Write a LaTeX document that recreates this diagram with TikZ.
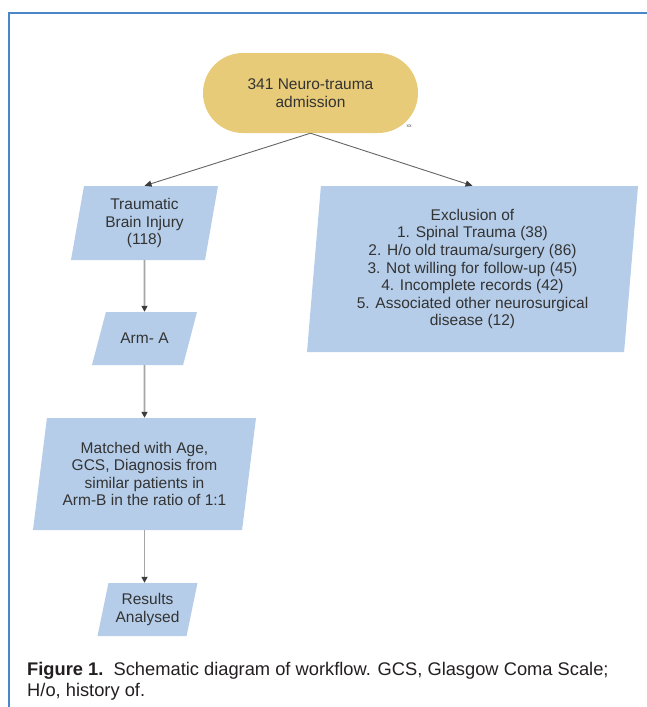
\documentclass[tikz,border=0pt]{standalone}
\usepackage{fontspec}
\setmainfont{Liberation Sans}
\usetikzlibrary{shapes.geometric,shapes.misc,arrows.meta}
\definecolor{framebl}{RGB}{74,134,200}
\definecolor{boxbl}{RGB}{181,205,233}
\definecolor{ovalgold}{RGB}{232,203,120}
\definecolor{txtgray}{RGB}{51,51,51}
\definecolor{linegray}{RGB}{165,165,165}
\definecolor{slantgray}{RGB}{100,100,100}
\definecolor{tipgray}{RGB}{60,60,60}
\definecolor{capcol}{RGB}{35,31,32}
\begin{document}
\begin{tikzpicture}[
    x=1pt, y=-1pt,
    every node/.style={font=\fontsize{15.5}{17.6}\selectfont, text=txtgray, align=center},
    stadium/.style={rounded rectangle, fill=ovalgold, minimum width=215pt, minimum height=80pt, inner sep=0pt},
    para/.style={trapezium, trapezium stretches body, fill=boxbl, inner xsep=0pt}, % paralelogramo
    down arrow/.style={draw=linegray, line width=1.6pt, -{Triangle[length=6pt,width=6pt,color=tipgray]}},
    side arrow/.style={draw=slantgray, line width=0.9pt, -{Triangle[length=7pt,width=6pt,color=tipgray]}}
    ]
    \useasboundingbox (0,0) rectangle (647,707);
    % moldura
    \draw[framebl, line width=2pt] (647,12.5) -- (9,12.5) -- (9,707);

    \node[stadium] (adm) at (310.5,93) {341 Neuro-trauma\\admission};
    \node[font=\fontsize{5}{5}\selectfont, text=black!70] (mark) at (409,126) {xx};

    \node[para, trapezium left angle=80, trapezium right angle=100, inner ysep=12pt,
          minimum height=74pt, minimum width=147pt] (tbi) at (144.5,223) {Traumatic\\Brain Injury\\(118)};
    \node[para, trapezium left angle=75.2, trapezium right angle=104.8, inner ysep=21pt,
          minimum height=53pt, minimum width=105pt] (arma) at (144.5,338.5) {Arm- A};
    \node[para, trapezium left angle=82.9, trapezium right angle=97.1, inner ysep=23.8pt,
          minimum height=112pt, minimum width=223pt] (match) at (144.5,474) {Matched with Age,\\GCS, Diagnosis from\\similar patients in\\Arm-B in the ratio of 1:1};
    \node[para, trapezium left angle=78.3, trapezium right angle=101.7, inner ysep=10.4pt,
          minimum height=53pt, minimum width=100pt] (res) at (147.5,609.5) {Results\\Analysed};
    \node[para, trapezium left angle=85.2, trapezium right angle=94.8, inner ysep=22.8pt,
          minimum height=166pt, minimum width=331pt] (excl) at (472.5,269) {Exclusion of\\1. Spinal Trauma (38)\\2. H/o old trauma/surgery (86)\\3. Not willing for follow-up (45)\\4. Incomplete records (42)\\5. Associated other neurosurgical\\disease (12)};

    \draw[side arrow] (adm.south) -- (tbi.north);
    \draw[side arrow] (adm.south) -- (excl.north);
    \draw[down arrow] (tbi.south) -- (arma.north);
    \draw[down arrow] (arma.south) -- (match.north);
    \draw[down arrow] (match.south) -- (match.south |- res.north);

    \node[anchor=base west, align=left, text=capcol, font=\fontsize{18.3}{21}\selectfont, inner sep=0pt] (cap) at (27,696)
      {\textbf{Figure 1.}\ \ Schematic diagram of workflow. GCS, Glasgow Coma Scale;\\H/o, history of.};
\end{tikzpicture}
\end{document}
